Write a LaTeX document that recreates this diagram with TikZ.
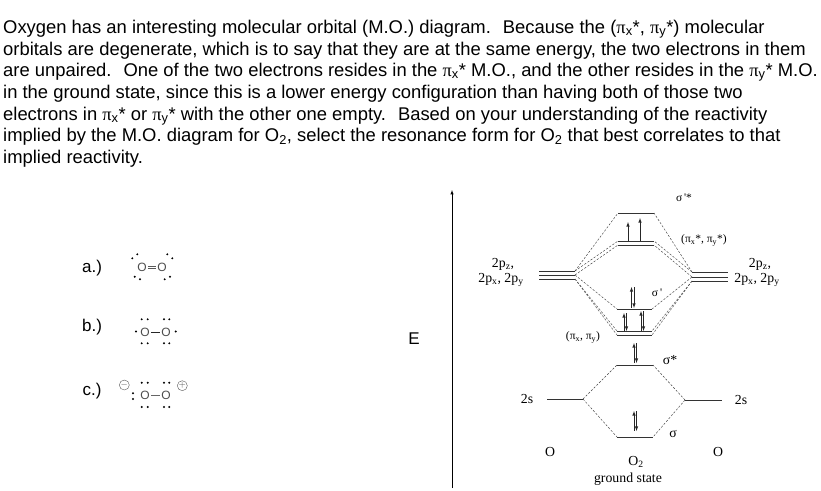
\documentclass[tikz,border=0pt]{standalone}
\usepackage{fontspec}
\setmainfont{Liberation Sans}
\newfontfamily\mofont{Liberation Serif}
\usetikzlibrary{arrows}
\newcommand{\pisym}{{\mofont π}}
\tikzset{
  para/.style={anchor=base west,inner sep=0pt,font=\fontsize{18.4}{20}\selectfont},
  opt/.style={inner sep=0pt,font=\fontsize{17}{19}\selectfont},
  mo/.style={inner sep=0pt,font=\mofont\fontsize{13.8}{15}\selectfont},
  mosmall/.style={inner sep=0pt,font=\mofont\fontsize{11.5}{13}\selectfont},
  atom/.style={inner sep=1pt,text=black!70,font=\fontsize{12}{12}\selectfont},
  ele/.style={fill=black,circle,minimum width=2.2pt,inner sep=0pt},
  chg/.style={draw=black!65,circle,minimum width=10pt,inner sep=0pt,text=black!70,font=\fontsize{9}{9}\selectfont},
  level/.style={line width=.8pt,black!80},
  corr/.style={dash pattern=on 2.2pt off 1.6pt,line width=.45pt,black!75},
  spin/.style={-latex,line width=.6pt,black!85}
}
\begin{document}
\begin{tikzpicture}[x=1pt,y=-1pt]
    \useasboundingbox (0,0) rectangle (821,490);
    % question text
    \node[para] (t1) at (3,33) {Oxygen has an interesting molecular orbital (M.O.) diagram.~ Because the (\pisym\textsubscript{x}*, \pisym\textsubscript{y}*) molecular};
    \node[para] (t2) at (3,55) {orbitals are degenerate, which is to say that they are at the same energy, the two electrons in them};
    \node[para] (t3) at (3,76) {are unpaired.~ One of the two electrons resides in the \pisym\textsubscript{x}* M.O., and the other resides in the \pisym\textsubscript{y}* M.O.};
    \node[para] (t4) at (3,98) {in the ground state, since this is a lower energy configuration than having both of those two};
    \node[para] (t5) at (3,120) {electrons in \pisym\textsubscript{x}* or \pisym\textsubscript{y}* with the other one empty.~ Based on your understanding of the reactivity};
    \node[para] (t6) at (3,141) {implied by the M.O. diagram for O\textsubscript{2}, select the resonance form for O\textsubscript{2} that best correlates to that};
    \node[para] (t7) at (3,163) {implied reactivity.};

    % resonance forms
    \node[opt] (la) at (92,268) {a.)};
    \node[opt] (lb) at (92,327) {b.)};
    \node[opt] (lc) at (92,391) {c.)};

    \node[atom] (a1) at (142,267) {O};
    \node[atom] (a2) at (162,267) {O};
    \draw[black!65,line width=.5pt] ([yshift=1.2pt]a1.east) -- ([yshift=1.2pt]a2.west);
    \draw[black!65,line width=.5pt] ([yshift=-1.2pt]a1.east) -- ([yshift=-1.2pt]a2.west);
    \node[ele] (ae1) at (132.3,258.3) {};
    \node[ele] (ae2) at (137.3,254.3) {};
    \node[ele] (ae3) at (167.3,254.3) {};
    \node[ele] (ae4) at (172.3,258.3) {};
    \node[ele] (ae5) at (134.7,276.7) {};
    \node[ele] (ae6) at (140,279.3) {};
    \node[ele] (ae7) at (164.7,279.3) {};
    \node[ele] (ae8) at (170,276.7) {};

    \node[atom] (b1) at (145,332) {O};
    \node[atom] (b2) at (166,332) {O};
    \draw[line width=.7pt,black!85] (b1) -- (b2);
    \node[ele] (be1) at (141.7,319.3) {};
    \node[ele] (be2) at (147.7,319.3) {};
    \node[ele] (be3) at (164,319.3) {};
    \node[ele] (be4) at (169.3,319.3) {};
    \node[ele] (be5) at (141.7,343.3) {};
    \node[ele] (be6) at (147.7,343.3) {};
    \node[ele] (be7) at (164,343.3) {};
    \node[ele] (be8) at (169.3,343.3) {};
    \node[ele] (be9) at (136,331.5) {};
    \node[ele] (be10) at (175.7,331.5) {};

    \node[atom] (c1) at (145,395.7) {O};
    \node[atom] (c2) at (166,395.7) {O};
    \draw[line width=.7pt,black!60] (c1) -- (c2);
    \node[ele] (ce1) at (141.7,382.7) {};
    \node[ele] (ce2) at (147.7,382.7) {};
    \node[ele] (ce3) at (164,382.7) {};
    \node[ele] (ce4) at (169.3,382.7) {};
    \node[ele] (ce5) at (141.7,407) {};
    \node[ele] (ce6) at (147.7,407) {};
    \node[ele] (ce7) at (164,407) {};
    \node[ele] (ce8) at (169.3,407) {};
    \node[ele] (ce9) at (133,393.3) {};
    \node[ele] (ce10) at (133,399) {};
    \node[chg] (cm) at (124.3,385) {$-$};
    \node[chg] (cp) at (182.3,385.7) {$+$};

    % energy axis
    \coordinate (e0) at (452,488);
    \coordinate (e1) at (452,190);
    \draw[-latex,line width=.5pt] (e0) -- (e1);
    \node[opt] (elab) at (414,339) {E};

    % levels, left O
    \coordinate (lz1) at (539,271); \coordinate (lz2) at (575,271);
    \coordinate (lx1) at (539,275); \coordinate (lx2) at (575,275);
    \coordinate (ly1) at (539,279); \coordinate (ly2) at (575,279);
    \coordinate (ls1) at (547,399); \coordinate (ls2) at (583,399);
    \draw[level] (lz1) -- (lz2);
    \draw[level] (lx1) -- (lx2);
    \draw[level] (ly1) -- (ly2);
    \draw[level] (ls1) -- (ls2);
    % levels, right O
    \coordinate (rz1) at (692,272); \coordinate (rz2) at (728,272);
    \coordinate (rx1) at (692,277); \coordinate (rx2) at (728,277);
    \coordinate (ry1) at (692,281); \coordinate (ry2) at (728,281);
    \coordinate (rs1) at (685,400); \coordinate (rs2) at (722,400);
    \draw[level] (rz1) -- (rz2);
    \draw[level] (rx1) -- (rx2);
    \draw[level] (ry1) -- (ry2);
    \draw[level] (rs1) -- (rs2);
    % levels, O2
    \coordinate (ssa) at (618,213); \coordinate (ssb) at (654,213);
    \coordinate (psa) at (618,241); \coordinate (psb) at (654,241);
    \coordinate (pta) at (618,245); \coordinate (ptb) at (654,245);
    \coordinate (spa) at (617,309); \coordinate (spb) at (652,309);
    \coordinate (paa) at (617,331); \coordinate (pab) at (652,331);
    \coordinate (pba) at (617,335); \coordinate (pbb) at (652,335);
    \coordinate (saa) at (617,365); \coordinate (sab) at (653,365);
    \coordinate (sba) at (617,437); \coordinate (sbb) at (653,437);
    \draw[level] (ssa) -- (ssb);
    \draw[level] (psa) -- (psb);
    \draw[level] (pta) -- (ptb);
    \draw[level] (spa) -- (spb);
    \draw[level] (paa) -- (pab);
    \draw[level] (pba) -- (pbb);
    \draw[level] (saa) -- (sab);
    \draw[level] (sba) -- (sbb);

    % correlation lines
    \draw[corr] (lz2) -- (ssa);
    \draw[corr] (lz2) -- (psa);
    \draw[corr] (lx2) -- (pta);
    \draw[corr] (lx2) -- (spa);
    \draw[corr] (ly2) -- (paa);
    \draw[corr] (ly2) -- (pba);
    \draw[corr] (rz1) -- (ssb);
    \draw[corr] (rz1) -- (psb);
    \draw[corr] (rx1) -- (ptb);
    \draw[corr] (rx1) -- (spb);
    \draw[corr] (ry1) -- (pab);
    \draw[corr] (ry1) -- (pbb);
    \draw[corr] (ls2) -- (saa);
    \draw[corr] (ls2) -- (sba);
    \draw[corr] (rs1) -- (sab);
    \draw[corr] (rs1) -- (sbb);

    % electrons
    \coordinate (u1) at (628,241); \coordinate (u1t) at (628,222);
    \coordinate (u2) at (640,241); \coordinate (u2t) at (640,218);
    \draw[spin] (u1) -- (u1t);
    \draw[spin] (u2) -- (u2t);
    \coordinate (v1) at (631.5,308); \coordinate (v1t) at (631.5,287);
    \coordinate (v2) at (634,287); \coordinate (v2t) at (634,308);
    \draw[spin] (v1) -- (v1t);
    \draw[spin] (v2) -- (v2t);
    \coordinate (w1) at (624,331); \coordinate (w1t) at (624,313);
    \coordinate (w2) at (626.5,313); \coordinate (w2t) at (626.5,331);
    \coordinate (w3) at (641,331); \coordinate (w3t) at (641,311);
    \coordinate (w4) at (643.5,311); \coordinate (w4t) at (643.5,331);
    \draw[spin] (w1) -- (w1t);
    \draw[spin] (w2) -- (w2t);
    \draw[spin] (w3) -- (w3t);
    \draw[spin] (w4) -- (w4t);
    \coordinate (x1) at (634,363); \coordinate (x1t) at (634,343);
    \coordinate (x2) at (636.5,343); \coordinate (x2t) at (636.5,363);
    \draw[spin] (x1) -- (x1t);
    \draw[spin] (x2) -- (x2t);
    \coordinate (y1) at (634,431); \coordinate (y1t) at (634,411);
    \coordinate (y2) at (636.5,411); \coordinate (y2t) at (636.5,431);
    \draw[spin] (y1) -- (y1t);
    \draw[spin] (y2) -- (y2t);

    % labels
    \node[mosmall] (lss) at (684,198) {σ\,'*};
    \node[mosmall] (lps) at (704,240) {(π\textsubscript{x}*, π\textsubscript{y}*)};
    \node[mo] (lpz) at (503,264) {2p\textsubscript{z},};
    \node[mo] (lpx) at (501,280) {2p\textsubscript{x}, 2p\textsubscript{y}};
    \node[mo] (rpz) at (760,264) {2p\textsubscript{z},};
    \node[mo] (rpx) at (757,280) {2p\textsubscript{x}, 2p\textsubscript{y}};
    \node[mosmall] (lsp) at (657,293) {σ\,'};
    \node[mosmall] (lpi) at (583,337) {(π\textsubscript{x}, π\textsubscript{y})};
    \node[mo] (lsa) at (670,360) {σ*};
    \node[mo] (lsb) at (673,434) {σ};
    \node[mo] (l2s) at (527,399) {2s};
    \node[mo] (r2s) at (741,400) {2s};
    \node[mo] (lo) at (550,452) {O};
    \node[mo] (ro) at (718,452) {O};
    \node[mo] (lo2) at (636,462) {O\textsubscript{2}};
    \node[mo] (lgs) at (628,479) {ground state};
\end{tikzpicture}
\end{document}
